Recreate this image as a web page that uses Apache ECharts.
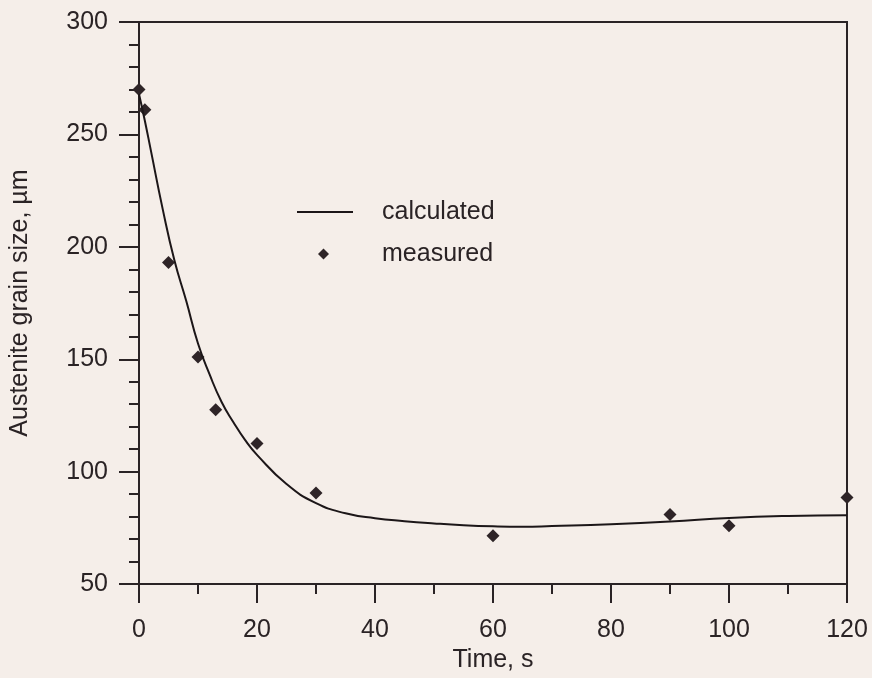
<!DOCTYPE html>
<html>
<head>
<meta charset="utf-8">
<script src="https://cdn.jsdelivr.net/npm/echarts@6/dist/echarts.min.js"></script>
<style>
html,body{margin:0;padding:0;background:#f5eee9;}
#c{width:872px;height:678px;}
</style>
</head>
<body>
<div id="c"></div>
<script>
// Calculated curve (time s, grain size µm)
const calcTime = [0, 1, 2, 4, 6, 8, 10, 12, 14, 16, 18, 20, 25, 30, 35, 40, 45, 50, 55, 60, 65, 70, 80, 90, 100, 110, 120];
const calcSize = [268, 256, 243, 217, 194, 176, 157, 143, 131, 122, 114, 107.5, 94.5, 86, 81.5, 79.3, 78, 77, 76.2, 75.7, 75.5, 75.8, 76.6, 77.8, 79.4, 80.3, 80.6];
// Measured points
const measTime = [0, 1, 5, 10, 13, 20, 30, 60, 90, 100, 120];
const measSize = [270, 261, 193, 151, 127.5, 112.5, 90.5, 71.5, 81, 76, 88.5];

const ink = '#2a2325';
const font = 'Liberation Sans, Arial, sans-serif';
const legendText = {fontFamily: font, fontSize: 25, color: ink, lineHeight: 30};

const chart = echarts.init(document.getElementById('c'));
chart.setOption({
  backgroundColor: '#f5eee9',
  animation: false,
  grid: {left: 137, right: 25, top: 22, bottom: 92, show: true, borderColor: ink, borderWidth: 2, backgroundColor: 'transparent'},
  legend: [
    {
      orient: 'vertical', left: 292, top: 192,
      itemWidth: 56, itemHeight: 10,
      textStyle: Object.assign({padding: [0, 0, 0, 24]}, legendText),
      data: [{name: 'calculated', icon: 'path://M0,0H56V2H0Z'}]
    },
    {
      orient: 'vertical', left: 313, top: 234,
      itemWidth: 11, itemHeight: 11,
      textStyle: Object.assign({padding: [0, 0, 0, 48]}, legendText),
      data: [{name: 'measured', icon: 'diamond'}]
    }
  ],
  xAxis: {
    type: 'value', min: 0, max: 120, interval: 20,
    name: 'Time, s', nameLocation: 'middle', nameGap: 62,
    nameTextStyle: {fontFamily: font, fontSize: 25, color: ink},
    axisLine: {show: true, onZero: false, lineStyle: {color: ink, width: 2}},
    axisTick: {show: true, inside: false, length: 19, lineStyle: {color: ink, width: 2}},
    minorTick: {show: true, splitNumber: 2, length: 10, lineStyle: {color: ink, width: 2}},
    splitLine: {show: false},
    axisLabel: {fontFamily: font, fontSize: 25, color: ink, margin: 34}
  },
  yAxis: {
    type: 'value', min: 50, max: 300, interval: 50,
    name: 'Austenite grain size, µm', nameLocation: 'middle', nameGap: 106, nameRotate: 90,
    nameTextStyle: {fontFamily: font, fontSize: 25, color: ink},
    axisLine: {show: true, onZero: false, lineStyle: {color: ink, width: 2}},
    axisTick: {show: true, inside: false, length: 20, lineStyle: {color: ink, width: 2}},
    minorTick: {show: true, splitNumber: 5, length: 10, lineStyle: {color: ink, width: 2}},
    splitLine: {show: false},
    axisLabel: {fontFamily: font, fontSize: 25, color: ink, margin: 31}
  },
  series: [
    {
      name: 'calculated', type: 'line', smooth: true,
      symbol: 'none', lineStyle: {color: '#1c1618', width: 2},
      itemStyle: {color: '#1c1618'},
      data: calcTime.map((t, i) => [t, calcSize[i]])
    },
    {
      name: 'measured', type: 'scatter', symbol: 'diamond', symbolSize: 13,
      itemStyle: {color: '#2e2427', opacity: 1},
      data: measTime.map((t, i) => [t, measSize[i]])
    }
  ]
});
</script>
</body>
</html>
